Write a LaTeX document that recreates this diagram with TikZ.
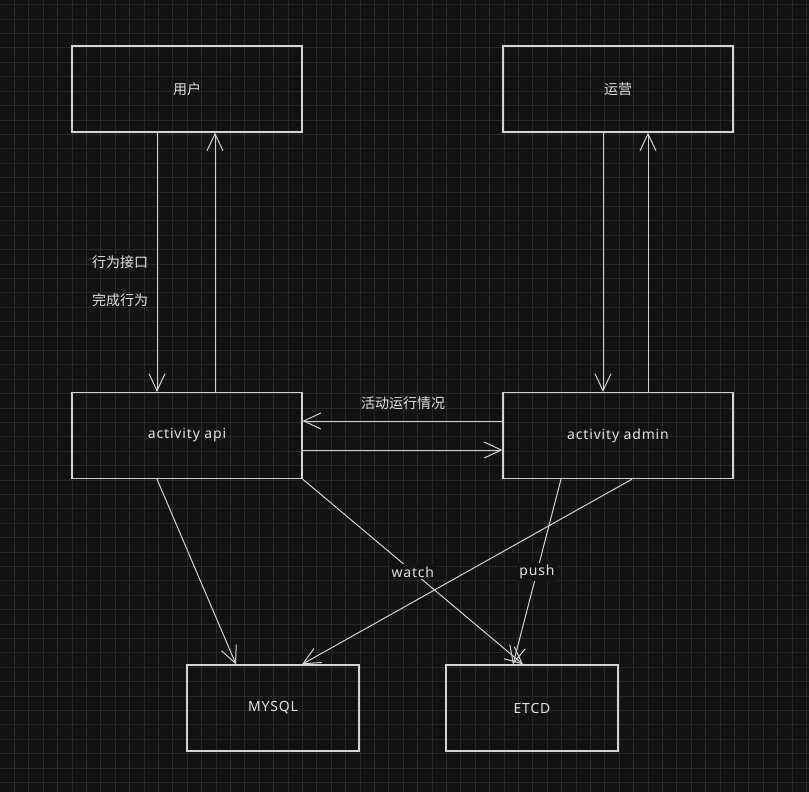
\documentclass[tikz,border=0pt]{standalone}
\usepackage{fontspec}
\setmainfont{Noto Sans}[LetterSpace=6]
\newfontfamily\cjk{Noto Sans CJK SC}
\usetikzlibrary{arrows.meta}
\definecolor{bg}{HTML}{121212}
\definecolor{gridc}{HTML}{282828}
\definecolor{linec}{HTML}{D4D4D4}
\definecolor{textc}{HTML}{E2E2E2}
\tikzset{
  box/.style={draw=linec, line width=1.3pt, minimum width=230pt, minimum height=86pt, inner sep=0pt, text=textc, font=\fontsize{14}{16}\selectfont},
  smallbox/.style={box, minimum width=172pt},
  arr/.style={draw=linec, line width=1pt, -{Straight Barb[length=17pt,width=16pt,line width=1pt]}},
  lbl/.style={text=textc, font=\fontsize{14}{16}\selectfont, inner sep=2pt},
  cjklbl/.style={text=textc, font=\cjk\fontsize{14}{16}\selectfont, inner sep=1pt},
}
\begin{document}
\begin{tikzpicture}[x=1pt,y=-1pt]
\fill[bg] (0,0) rectangle (809,792);
\useasboundingbox (0,0) rectangle (809,792);
\foreach \k in {1,...,56} {\draw[gridc, line width=0.8pt] (14.4*\k,0) -- (14.4*\k,792);}
\foreach \k in {0,...,54} {\draw[gridc, line width=0.8pt] (0,4.7+14.4*\k) -- (809,4.7+14.4*\k);}

\node[box, font=\cjk\fontsize{14}{16}\selectfont] (user) at (187,89) {用户};
\node[box, font=\cjk\fontsize{14}{16}\selectfont] (ops) at (618,89) {运营};
\node[box] (api) at (187,435.5) {activity api};
\node[box] (admin) at (618,435.5) {activity admin};
\node[smallbox] (mysql) at (273,708) {MYSQL};
\node[smallbox] (etcd) at (532,708) {ETCD};

\draw[arr] (user.south -| 157,0) -- (api.north -| 157,0);
\draw[arr] (api.north -| 215,0) -- (user.south -| 215,0);
\node[cjklbl] (l1) at (120,262) {行为接口};
\node[cjklbl] (l2) at (120,300) {完成行为};

\draw[arr] (ops.south -| 603,0) -- (admin.north -| 603,0);
\draw[arr] (admin.north -| 648,0) -- (ops.south -| 648,0);

\draw[arr] (admin.west |- 0,421) -- (api.east |- 0,421);
\draw[arr] (api.east |- 0,450) -- (admin.west |- 0,450);
\node[cjklbl] (l3) at (403,403) {活动运行情况};

\draw[arr] (api.south -| 157,0) -- (mysql.north -| 236,0);
\draw[arr] (api.south east) -- (etcd.north -| 523,0) node[lbl, fill=bg, pos=0.5] (w) {watch};
\draw[arr] (admin.south -| 632,0) -- (mysql.north -| 302,0);
\draw[arr] (admin.south -| 561,0) -- (etcd.north -| 513,0) node[lbl, fill=bg, pos=0.5] (p) {push};
\end{tikzpicture}
\end{document}
